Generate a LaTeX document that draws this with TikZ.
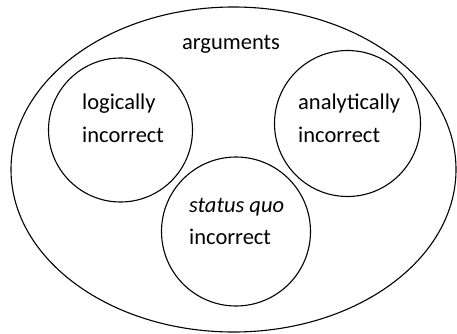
\documentclass[tikz,border=0pt]{standalone}
\usepackage{fontspec}
\setmainfont{Carlito}
\usetikzlibrary{shapes.geometric}
\begin{document}
\begin{tikzpicture}[x=1pt,y=-1pt,
  set/.style={draw=black,line width=1.1pt,inner sep=0pt,outer sep=0pt},
  circ/.style={set,circle,minimum size=#1},
  lbl/.style={anchor=base west,inner sep=0pt,font=\fontsize{22.5}{32}\selectfont}]
\useasboundingbox (0,0) rectangle (457,334);
\node[set,ellipse,minimum width=445,minimum height=325] (all) at (233.5,169.5) {};
\node[circ=144] (logic) at (120.5,130) {};
\node[circ=146] (anal) at (347.5,123.5) {};
\node[circ=149] (sq) at (236,231.5) {};
\node[anchor=base,inner sep=0pt,font=\fontsize{22.5}{32}\selectfont] (argt) at (231,50) {arguments};
\node[lbl] (l1) at (82,110) {logically};
\node[lbl] (l2) at (82,142) {incorrect};
\node[lbl] (a1) at (298,110) {analytically};
\node[lbl] (a2) at (298,142) {incorrect};
\node[lbl] (s1) at (189,212) {\itshape status quo};
\node[lbl] (s2) at (189,244) {incorrect};
\end{tikzpicture}
\end{document}
